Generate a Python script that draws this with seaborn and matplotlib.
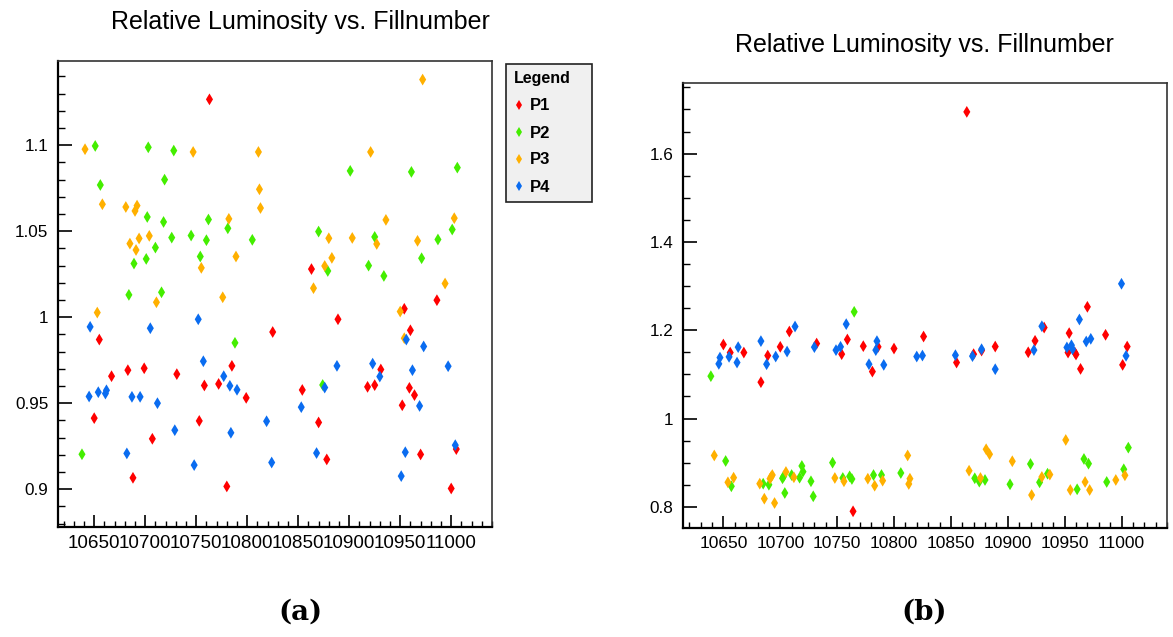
import pandas as pd
import matplotlib
matplotlib.use("Agg")
import matplotlib.pyplot as plt
from matplotlib.ticker import MultipleLocator, FuncFormatter
from matplotlib.lines import Line2D
import seaborn as sns

# ---- panel (a): relative luminosity per fill ----
a_p1_fill = [10650, 10655, 10667, 10683, 10688, 10699, 10707, 10731, 10753, 10758, 10763, 10772, 10780,
             10785, 10799, 10825, 10854, 10863, 10870, 10878, 10889, 10918, 10925, 10931, 10952, 10954,
             10959, 10960, 10964, 10970, 10986, 11000, 11005]
a_p1_val = [0.9413, 0.9870, 0.9657, 0.9692, 0.9066, 0.9703, 0.9293, 0.9669, 0.9397, 0.9603, 1.1267, 0.9612,
            0.9016, 0.9717, 0.9531, 0.9914, 0.9577, 1.0280, 0.9388, 0.9173, 0.9988, 0.9595, 0.9605, 0.9696,
            0.9488, 1.0049, 0.9589, 0.9924, 0.9547, 0.9202, 1.0099, 0.9004, 0.9233]

a_p2_fill = [10638, 10651, 10656, 10684, 10689, 10701, 10702, 10703, 10710, 10716, 10718, 10719, 10726,
             10728, 10745, 10754, 10760, 10762, 10781, 10788, 10805, 10870, 10874, 10879, 10901, 10919,
             10925, 10934, 10961, 10971, 10987, 11001, 11006]
a_p2_val = [0.9203, 1.0996, 1.0769, 1.0130, 1.0312, 1.0339, 1.0583, 1.0988, 1.0405, 1.0145, 1.0554, 1.0800,
            1.0463, 1.0969, 1.0475, 1.0353, 1.0448, 1.0568, 1.0517, 0.9851, 1.0450, 1.0498, 0.9606, 1.0269,
            1.0851, 1.0300, 1.0467, 1.0240, 1.0845, 1.0343, 1.0452, 1.0510, 1.0870]

a_p3_fill = [10641, 10653, 10658, 10681, 10685, 10690, 10691, 10692, 10694, 10704, 10711, 10747, 10755,
             10776, 10782, 10789, 10811, 10812, 10813, 10865, 10876, 10880, 10883, 10903, 10921, 10927,
             10936, 10950, 10954, 10967, 10972, 10994, 11003]
a_p3_val = [1.0977, 1.0027, 1.0657, 1.0641, 1.0428, 1.0618, 1.0391, 1.0649, 1.0458, 1.0473, 1.0087, 1.0961,
            1.0287, 1.0116, 1.0572, 1.0353, 1.0961, 1.0744, 1.0635, 1.0169, 1.0298, 1.0459, 1.0345, 1.0461,
            1.0961, 1.0426, 1.0566, 1.0033, 0.9878, 1.0444, 1.1382, 1.0196, 1.0576]

a_p4_fill = [10645, 10646, 10654, 10661, 10662, 10682, 10687, 10695, 10705, 10712, 10729, 10748, 10752,
             10757, 10777, 10783, 10784, 10790, 10819, 10824, 10853, 10868, 10876, 10888, 10923, 10930,
             10951, 10955, 10956, 10962, 10969, 10973, 10997, 11004]
a_p4_val = [0.9539, 0.9944, 0.9564, 0.9556, 0.9575, 0.9208, 0.9537, 0.9537, 0.9936, 0.9500, 0.9343, 0.9140,
            0.9988, 0.9744, 0.9657, 0.9601, 0.9328, 0.9578, 0.9395, 0.9155, 0.9477, 0.9210, 0.9591, 0.9717,
            0.9730, 0.9655, 0.9076, 0.9215, 0.9870, 0.9692, 0.9484, 0.9830, 0.9715, 0.9256]

# ---- panel (b) ----
b_p1_fill = [10650, 10656, 10668, 10683, 10689, 10700, 10708, 10732, 10754, 10759, 10764, 10773, 10781,
             10786, 10800, 10826, 10855, 10864, 10870, 10877, 10889, 10918, 10924, 10932, 10953, 10954,
             10959, 10960, 10964, 10970, 10986, 11001, 11005]
b_p1_val = [1.1676, 1.1494, 1.1494, 1.0823, 1.1426, 1.1624, 1.1970, 1.1698, 1.1458, 1.1790, 0.7898, 1.1639,
            1.1063, 1.1624, 1.1585, 1.1857, 1.1268, 1.6946, 1.1458, 1.1540, 1.1630, 1.1500, 1.1760, 1.2060,
            1.1494, 1.1934, 1.1494, 1.1450, 1.1124, 1.2530, 1.1896, 1.1215, 1.1630]

b_p2_fill = [10639, 10652, 10657, 10685, 10690, 10702, 10703, 10704, 10710, 10717, 10719, 10720, 10727,
             10729, 10746, 10755, 10761, 10763, 10765, 10782, 10789, 10806, 10871, 10875, 10880, 10902,
             10920, 10928, 10935, 10961, 10967, 10971, 10987, 11002, 11006]
b_p2_val = [1.0959, 0.9038, 0.8465, 0.8524, 0.8500, 0.8646, 0.8690, 0.8313, 0.8720, 0.8660, 0.8925, 0.8796,
            0.8578, 0.8238, 0.9000, 0.8653, 0.8690, 0.8630, 1.2417, 0.8720, 0.8720, 0.8766, 0.8646, 0.8570,
            0.8608, 0.8510, 0.8970, 0.8555, 0.8750, 0.8397, 0.9084, 0.8977, 0.8563, 0.8850, 0.9340]

b_p3_fill = [10642, 10654, 10659, 10682, 10686, 10691, 10692, 10693, 10695, 10705, 10712, 10748, 10756,
             10777, 10783, 10790, 10812, 10813, 10814, 10866, 10876, 10881, 10884, 10904, 10921, 10930,
             10937, 10951, 10955, 10968, 10972, 10995, 11003]
b_p3_val = [0.9163, 0.8555, 0.8660, 0.8524, 0.8184, 0.8637, 0.8680, 0.8720, 0.8086, 0.8789, 0.8669, 0.8653,
            0.8578, 0.8637, 0.8478, 0.8592, 0.9163, 0.8517, 0.8637, 0.8818, 0.8653, 0.9304, 0.9191, 0.9032,
            0.8267, 0.8676, 0.8730, 0.9514, 0.8381, 0.8563, 0.8381, 0.8608, 0.8714]

b_p4_fill = [10646, 10647, 10655, 10662, 10663, 10683, 10688, 10696, 10706, 10713, 10730, 10749, 10753,
             10758, 10778, 10784, 10785, 10791, 10820, 10825, 10854, 10869, 10877, 10889, 10923, 10930,
             10952, 10956, 10957, 10963, 10969, 10973, 11000, 11004]
b_p4_val = [1.1238, 1.1380, 1.1397, 1.1268, 1.1617, 1.1753, 1.1230, 1.1404, 1.1517, 1.2084, 1.1617, 1.1549,
            1.1624, 1.2138, 1.1230, 1.1549, 1.1753, 1.1215, 1.1404, 1.1426, 1.1435, 1.1413, 1.1570, 1.1117,
            1.1550, 1.2090, 1.1610, 1.1660, 1.1570, 1.2243, 1.1744, 1.1805, 1.3052, 1.1420]

series = ["P1", "P2", "P3", "P4"]
colors = {"P1": "#ff0000", "P2": "#44ee00", "P3": "#ffb000", "P4": "#0a6cf0"}


def make_df(fills, vals):
    parts = []
    for name, f, v in zip(series, fills, vals):
        parts.append(pd.DataFrame({"fill": f, "value": v, "series": name}))
    return pd.concat(parts, ignore_index=True)


df_a = make_df([a_p1_fill, a_p2_fill, a_p3_fill, a_p4_fill], [a_p1_val, a_p2_val, a_p3_val, a_p4_val])
df_b = make_df([b_p1_fill, b_p2_fill, b_p3_fill, b_p4_fill], [b_p1_val, b_p2_val, b_p3_val, b_p4_val])

sns.set_style("white")
plt.rcParams["font.family"] = ["Liberation Sans", "DejaVu Sans"]
plt.rcParams["text.color"] = "black"

fig = plt.figure(figsize=(11.73, 6.37), dpi=100)
W, H = 1173, 637
ax_a = fig.add_axes([58 / W, 1 - 527 / H, 434 / W, 466 / H])
ax_b = fig.add_axes([683 / W, 1 - 528 / H, 484 / W, 445 / H])


def style_axis(ax, ylim, ymajor, yminor, xsize, ysize):
    ax.set_xlim(10614.5, 11040)
    ax.set_ylim(*ylim)
    ax.xaxis.set_major_locator(MultipleLocator(50))
    ax.xaxis.set_minor_locator(MultipleLocator(10))
    ax.yaxis.set_major_locator(MultipleLocator(ymajor))
    ax.yaxis.set_minor_locator(MultipleLocator(yminor))
    ax.xaxis.set_major_formatter(FuncFormatter(lambda v, p: f"{v:.0f}"))
    ax.yaxis.set_major_formatter(FuncFormatter(lambda v, p: f"{round(v, 4):g}"))
    ax.tick_params(which="both", direction="in", left=True, bottom=True, top=False, right=False,
                   colors="black")
    ax.tick_params(axis="x", labelsize=xsize)
    ax.tick_params(axis="y", labelsize=ysize)
    ax.tick_params(axis="y", which="major", length=10, width=1.2, pad=7)
    ax.tick_params(axis="y", which="minor", length=5, width=1.0)
    ax.tick_params(axis="x", which="major", length=9, width=1.2, pad=6)
    ax.tick_params(axis="x", which="minor", length=4.5, width=1.0)
    for s in ["left", "bottom"]:
        ax.spines[s].set_color("black")
        ax.spines[s].set_linewidth(1.6)
    for s in ["top", "right"]:
        ax.spines[s].set_color("#333333")
        ax.spines[s].set_linewidth(1.2)
    ax.set_xlabel("")
    ax.set_ylabel("")


for ax, df in [(ax_a, df_a), (ax_b, df_b)]:
    sns.scatterplot(data=df, x="fill", y="value", hue="series", palette=colors, marker="d",
                    s=36, linewidth=0, legend=False, ax=ax)

style_axis(ax_a, (0.878, 1.149), 0.05, 0.01, 13.6, 12.3)
style_axis(ax_b, (0.752, 1.76), 0.2, 0.05, 12.5, 12.3)

# titles above each pad
fig.text(300 / W, 1 - 22 / H, "Relative Luminosity vs. Fillnumber", ha="center", va="center",
         fontsize=18, color="black")
fig.text(924 / W, 1 - 45 / H, "Relative Luminosity vs. Fillnumber", ha="center", va="center",
         fontsize=18, color="black")

# subfigure captions
fig.text(300 / W, 1 - 612 / H, "(a)", ha="center", va="center", fontsize=20, fontweight="bold",
         family="DejaVu Serif", color="black")
fig.text(924 / W, 1 - 612 / H, "(b)", ha="center", va="center", fontsize=20, fontweight="bold",
         family="DejaVu Serif", color="black")

# legend box for panel (a)
handles = [Line2D([], [], marker="d", linestyle="", color=colors[k], markersize=5, markeredgewidth=0)
           for k in series]
leg = fig.legend(handles, series, title="Legend", loc="upper left",
                 bbox_to_anchor=(506 / W, 1 - 200 / H, 86 / W, 136 / H), mode="expand",
                 frameon=True, fancybox=False,
                 facecolor="#f0f0f0", edgecolor="#222222", framealpha=1,
                 prop={"weight": "bold", "size": 12}, title_fontproperties={"weight": "bold", "size": 11.5},
                 labelspacing=0.72, handlelength=0.6, handletextpad=0.4, borderpad=0.45,
                 borderaxespad=0)
leg._legend_box.align = "left"
leg.get_frame().set_linewidth(1.2)
for t in leg.get_texts():
    t.set_color("black")
leg.get_title().set_color("black")

fig.savefig("out.png", dpi=100)
